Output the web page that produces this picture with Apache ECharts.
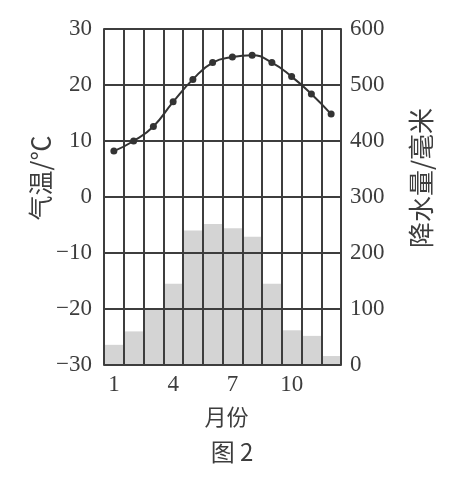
<!DOCTYPE html>
<html>
<head>
<meta charset="utf-8">
<script src="https://cdn.jsdelivr.net/npm/echarts@6/dist/echarts.min.js"></script>
<style>
  html, body { margin: 0; padding: 0; background: #fff; }
  #chart { width: 464px; height: 486px; }
</style>
</head>
<body>
<div id="chart"></div>
<script>
// 月份
const months = ['1', '2', '3', '4', '5', '6', '7', '8', '9', '10', '11', '12'];
// 气温 (℃)
const temperature = [8.2, 10, 12.6, 17, 21, 24, 25, 25.3, 24, 21.5, 18.4, 14.8];
// 降水量 (毫米)
const precipitation = [36, 60, 98, 145, 240, 252, 244, 229, 145, 62, 52, 16];

const ink = '#3d3d3d';
const serif = '"Liberation Serif", "DejaVu Serif", serif';
const cjk = '"Noto Sans CJK SC", sans-serif';

let myChart = echarts.init(document.getElementById('chart'));
myChart.setOption({
    animation: false,
    backgroundColor: '#fff',
    grid: {
        left: 104,
        right: 123,
        top: 29,
        bottom: 121
    },
    xAxis: {
        type: 'category',
        data: months,
        boundaryGap: true,
        z: 3,
        name: '月份',
        nameLocation: 'middle',
        nameGap: 41,
        nameTextStyle: { color: ink, fontFamily: cjk, fontSize: 22, padding: [0, 0, 0, 8] },
        axisLine: { show: true, lineStyle: { color: ink, width: 2 } },
        axisTick: { show: false, interval: 0 },
        axisLabel: {
            interval: 2,
            margin: 8,
            color: ink,
            fontFamily: serif,
            fontSize: 23
        },
        splitLine: { show: true, interval: 0, lineStyle: { color: ink, width: 2 } }
    },
    yAxis: [
        {
            type: 'value',
            min: -30,
            max: 30,
            interval: 10,
            z: 3,
            axisLine: { show: true, lineStyle: { color: ink, width: 2 } },
            axisTick: { show: false },
            axisLabel: {
                margin: 12,
                color: ink,
                fontFamily: serif,
                fontSize: 23,
                formatter: v => String(v).replace('-', '\u2212')
            },
            splitLine: { show: true, lineStyle: { color: ink, width: 2 } }
        },
        {
            type: 'value',
            min: 0,
            max: 600,
            interval: 100,
            position: 'right',
            z: 3,
            axisLine: { show: true, lineStyle: { color: ink, width: 2 } },
            axisTick: { show: false },
            axisLabel: { margin: 9, color: ink, fontFamily: serif, fontSize: 23 },
            splitLine: { show: false }
        }
    ],
    graphic: [
        {
            type: 'text',
            x: 40,
            y: 178,
            rotation: Math.PI / 2,
            style: {
                text: '气温/℃',
                fill: ink,
                font: '25px ' + cjk,
                align: 'center',
                verticalAlign: 'middle'
            }
        },
        {
            type: 'text',
            x: 421,
            y: 178,
            rotation: Math.PI / 2,
            style: {
                text: '降水量/毫米',
                fill: ink,
                font: '26px ' + cjk,
                align: 'center',
                verticalAlign: 'middle'
            }
        },
        {
            type: 'text',
            x: 232,
            y: 452,
            style: {
                text: '图 2',
                fill: ink,
                font: '24px ' + cjk,
                align: 'center',
                verticalAlign: 'middle'
            }
        }
    ],
    series: [
        {
            name: '降水量',
            type: 'bar',
            yAxisIndex: 1,
            data: precipitation,
            barWidth: '100%',
            barCategoryGap: 0,
            z: 1,
            itemStyle: { color: '#d4d4d4' }
        },
        {
            name: '气温',
            type: 'line',
            yAxisIndex: 0,
            data: temperature,
            smooth: true,
            symbol: 'circle',
            symbolSize: 7,
            z: 5,
            lineStyle: { color: '#333', width: 2 },
            itemStyle: { color: '#333' }
        }
    ]
});
</script>
</body>
</html>
